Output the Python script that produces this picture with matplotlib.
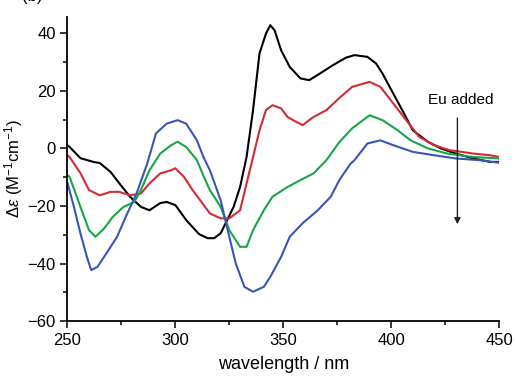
import matplotlib
matplotlib.use("Agg")
import matplotlib.pyplot as plt
from matplotlib.ticker import MultipleLocator

plt.rcParams['font.family'] = ['Liberation Sans', 'DejaVu Sans']
plt.rcParams['mathtext.fontset'] = 'custom'
plt.rcParams['mathtext.rm'] = 'Liberation Sans'
plt.rcParams['mathtext.it'] = 'Liberation Sans:italic'

# --- data ---
black_x = [250, 251, 256, 262, 265, 270, 274, 279, 284, 288, 293, 296, 300, 305, 311, 315, 318, 321, 324, 327,
           330, 333, 336, 339, 342, 344, 346, 349, 353, 358, 362, 367, 373, 379, 383, 389, 393, 396, 401, 406,
           410, 417, 423, 430, 438, 446, 450]
black_y = [1, 0.5, -3.4, -4.7, -5.1, -8.2, -12.1, -16.8, -20.3, -21.5, -19, -18.6, -19.7, -24.9, -29.8, -31.2, -31.2,
           -29.5, -24.9, -20.3, -13.4, -3, 13.3, 33, 39.9, 42.8, 41, 34.1, 28.3, 24.3, 23.7, 26, 28.9, 31.5, 32.4,
           31.8, 29.5, 26, 19, 12.1, 6.3, 2.3, 0, -1.8, -3.5, -4.7, -4.7]

red_x = [250, 251, 256, 260, 265, 270, 274, 279, 284, 288, 293, 298, 300, 304, 308, 312, 316, 321, 325, 330,
         333, 336, 339, 342, 345, 349, 352, 356, 359, 364, 370, 376, 382, 390, 395, 401, 407, 413, 420, 427,
         438, 446, 450]
red_y = [-2.4, -3, -8.6, -14.5, -16.3, -15.1, -15.1, -16.3, -15.7, -12.2, -8.7, -7.6, -6.9, -9.9, -14.5, -18.5,
         -22.6, -24.3, -24.3, -21.5, -12.2, -3, 6.3, 13.3, 15, 13.9, 10.9, 9.2, 8.1, 10.9, 13.3, 17.5, 21.4, 23.1,
         21.4, 15.6, 9.8, 4, 1.1, -0.6, -1.8, -2.4, -3]

green_x = [250, 251, 256, 260, 263, 267, 271, 276, 281, 284, 288, 293, 298, 301, 305, 310, 313, 316, 321, 325,
           330, 333, 336, 341, 345, 352, 358, 364, 370, 376, 382, 390, 396, 403, 409, 417, 426, 438, 450]
green_y = [-9.3, -9.9, -20.3, -28.4, -30.7, -27.8, -23.8, -20.3, -18.6, -14.5, -7.6, -1.8, 1.1, 2.3, 0.5, -4.1,
           -9.5, -14.5, -20.3, -28.4, -34.2, -34.2, -28.4, -21.5, -16.8, -13.4, -11, -8.7, -4.1, 2.2, 7.0, 11.5,
           9.8, 6.3, 2.8, 0, -1.8, -3, -3.5]

blue_x = [250, 253, 256, 259, 261, 264, 268, 273, 277, 282, 287, 291, 296, 301, 305, 310, 313, 316, 321, 325,
          328, 332, 336, 341, 344, 349, 353, 359, 366, 372, 376, 381, 383, 389, 395, 401, 410, 420, 430, 441, 450]
blue_y = [-12, -20.3, -29.5, -37.7, -42.3, -41.1, -36.5, -30.7, -23.8, -15.7, -5.2, 5.2, 8.6, 9.8, 8.6, 2.8,
          -3, -7.6, -18, -30.7, -40, -48.1, -49.8, -48.1, -44.6, -37.7, -30.7, -26, -21.5, -16.8, -11, -5.5,
          -4.1, 1.7, 2.8, 1.1, -1.2, -2.4, -3.5, -4.1, -5]

series = [
    (black_x, black_y, '#000000'),
    (red_x, red_y, '#d42a36'),
    (green_x, green_y, '#18a548'),
    (blue_x, blue_y, '#3a56b4'),
]

xticks = [250, 300, 350, 400, 450]
yticks = [-60, -40, -20, 0, 20, 40]

fig = plt.figure(figsize=(5.15, 3.76), dpi=100)
ax = fig.add_axes([0.131, 0.146, 0.838, 0.810])

for xs, ys, c in series:
    ax.plot(xs, ys, color=c, lw=1.5)

ax.set_xlim(250, 450)
ax.set_ylim(-60, 45.8)
ax.set_xticks(xticks)
ax.set_yticks(yticks)
ax.xaxis.set_minor_locator(MultipleLocator(25))
ax.yaxis.set_minor_locator(MultipleLocator(10))
ax.tick_params(which='major', direction='out', length=5, width=1.1, labelsize=12)
ax.tick_params(which='minor', direction='out', length=3, width=1.1)
for s in ['top', 'right']:
    ax.spines[s].set_visible(False)
for s in ['left', 'bottom']:
    ax.spines[s].set_linewidth(1.3)

ax.set_xlabel('wavelength / nm', fontsize=13, labelpad=6)
ax.set_ylabel(r'$\Delta\varepsilon$ (M$^{-1}$cm$^{-1}$)', fontsize=12, labelpad=2)

ax.annotate('', xy=(430.7, -27.3), xytext=(430.7, 11.5),
            arrowprops=dict(arrowstyle='-|>', color='#222222', lw=1.0, mutation_scale=9))
ax.text(432.3, 16.7, 'Eu added', fontsize=11, ha='center', va='center')

# panel label, cut off by the top edge as in the reference
fig.text(0.062, 0.990, '(b)', fontsize=12, ha='center', va='bottom')

fig.savefig('out.png', dpi=100)
